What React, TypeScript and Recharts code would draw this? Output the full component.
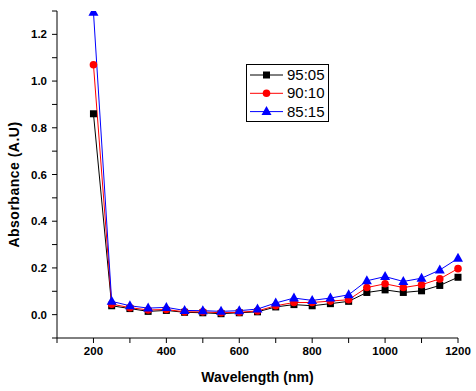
import React from 'react';
import { LineChart, Line, XAxis, YAxis, Legend, Label } from 'recharts';

// wavelength (nm)
const wavelengths = [200, 250, 300, 350, 400, 450, 500, 550, 600, 650, 700, 750, 800, 850, 900, 950, 1000, 1050, 1100, 1150, 1200];

// absorbance per ratio
const abs9505 = [0.86, 0.038, 0.026, 0.014, 0.018, 0.01, 0.008, 0.004, 0.008, 0.012, 0.033, 0.043, 0.038, 0.047, 0.057, 0.095, 0.106, 0.095, 0.102, 0.125, 0.16];
const abs9010 = [1.07, 0.045, 0.03, 0.02, 0.022, 0.012, 0.012, 0.008, 0.01, 0.016, 0.038, 0.052, 0.052, 0.058, 0.064, 0.116, 0.132, 0.116, 0.128, 0.153, 0.197];
const abs8515 = [1.295, 0.057, 0.038, 0.028, 0.031, 0.018, 0.017, 0.014, 0.017, 0.024, 0.05, 0.071, 0.061, 0.071, 0.085, 0.145, 0.163, 0.142, 0.156, 0.191, 0.241];

const seriesNames = ['95:05', '90:10', '85:15'];
const seriesColors = ['#000000', '#ff0000', '#0000ff'];

const xTicks = [100, 200, 300, 400, 500, 600, 700, 800, 900, 1000, 1100, 1200];
const yTicks = [-0.1, 0, 0.1, 0.2, 0.3, 0.4, 0.5, 0.6, 0.7, 0.8, 0.9, 1.0, 1.1, 1.2, 1.3];

const data = wavelengths.map((w, i) => ({
    w,
    s1: abs9505[i],
    s2: abs9010[i],
    s3: abs8515[i],
}));

const FONT = '"Liberation Sans", Arial, sans-serif';

const Marker = ({ kind, cx, cy, color }: { kind: number; cx: number; cy: number; color: string }) => {
    if (kind === 0) return <rect x={cx - 3.5} y={cy - 3.5} width={7} height={7} fill={color} />;
    if (kind === 1) return <circle cx={cx} cy={cy} r={3.8} fill={color} />;
    return <polygon points={`${cx},${cy - 5.5} ${cx - 5},${cy + 3.5} ${cx + 5},${cy + 3.5}`} fill={color} />;
};

const dotFor = (kind: number) => (p: any) => (
    <Marker key={`m${kind}-${p.index}`} kind={kind} cx={p.cx} cy={p.cy} color={seriesColors[kind]} />
);

const LegendBox = () => (
    <svg width={83} height={58} style={{ display: 'block' }}>
        <rect x={0.5} y={0.5} width={82} height={57} fill="#fff" stroke="#000" strokeWidth={1} />
        {seriesNames.map((name, i) => {
            const cy = 11 + i * 18.3;
            return (
                <g key={name}>
                    <line x1={4} x2={37} y1={cy} y2={cy} stroke={seriesColors[i]} strokeWidth={1} />
                    <Marker kind={i} cx={20.5} cy={cy} color={seriesColors[i]} />
                    <text x={41} y={cy + 5} fontSize={15} fontFamily={FONT} fill="#000">{name}</text>
                </g>
            );
        })}
    </svg>
);

const xTitle = (props: any) => {
    const vb = props.viewBox;
    return (
        <text x={vb.x + vb.width / 2} y={vb.y + 44} textAnchor="middle" fontSize={14} fontWeight="bold" fontFamily={FONT} fill="#000">
            Wavelength (nm)
        </text>
    );
};

const yTitle = (props: any) => {
    const vb = props.viewBox;
    const cx = 19;
    const cy = vb.y + vb.height / 2 + 10;
    return (
        <text x={cx} y={cy} transform={`rotate(-90 ${cx} ${cy})`} textAnchor="middle" fontSize={14} fontWeight="bold" fontFamily={FONT} letterSpacing={0.5} fill="#000">
            Absorbance (A.U)
        </text>
    );
};

const tickStyle = { fontSize: 11.5, fontWeight: 'bold' as const, fontFamily: FONT, fill: '#000' };

export default function App() {
    return (
        <div style={{ position: 'absolute', left: 0, top: 0, width: 476, height: 391, background: '#fff' }}>
            <LineChart width={476} height={391} data={data} margin={{ top: 11, right: 18, left: 0, bottom: 0 }}>
                <XAxis
                    dataKey="w"
                    type="number"
                    domain={[100, 1200]}
                    ticks={xTicks}
                    tickFormatter={(v: number) => (v % 200 === 0 ? `${v}` : '')}
                    height={53}
                    tickSize={5}
                    tickMargin={4}
                    stroke="#000"
                    tick={tickStyle}
                >
                    <Label content={xTitle} />
                </XAxis>
                <XAxis xAxisId="top" orientation="top" dataKey="w" type="number" domain={[100, 1200]} height={0} tick={false} tickLine={false} stroke="#000" />
                <YAxis
                    type="number"
                    domain={[-0.1, 1.3]}
                    ticks={yTicks}
                    tickFormatter={(v: number) => (Math.round(v * 10) % 2 === 0 ? v.toFixed(1) : '')}
                    width={57}
                    tickSize={5}
                    tickMargin={5}
                    stroke="#000"
                    tick={tickStyle}
                    allowDataOverflow
                >
                    <Label content={yTitle} />
                </YAxis>
                <YAxis yAxisId="right" orientation="right" type="number" domain={[-0.1, 1.3]} width={0} tick={false} tickLine={false} stroke="#000" />
                <Legend
                    layout="vertical"
                    align="center"
                    verticalAlign="middle"
                    content={() => <LegendBox />}
                    wrapperStyle={{ position: 'absolute', left: 246, top: 64, width: 83, height: 58 }}
                />
                <Line type="linear" dataKey="s1" name={seriesNames[0]} stroke={seriesColors[0]} strokeWidth={1} dot={dotFor(0)} isAnimationActive={false} />
                <Line type="linear" dataKey="s2" name={seriesNames[1]} stroke={seriesColors[1]} strokeWidth={1} dot={dotFor(1)} isAnimationActive={false} />
                <Line type="linear" dataKey="s3" name={seriesNames[2]} stroke={seriesColors[2]} strokeWidth={1} dot={dotFor(2)} isAnimationActive={false} />
            </LineChart>
        </div>
    );
}
